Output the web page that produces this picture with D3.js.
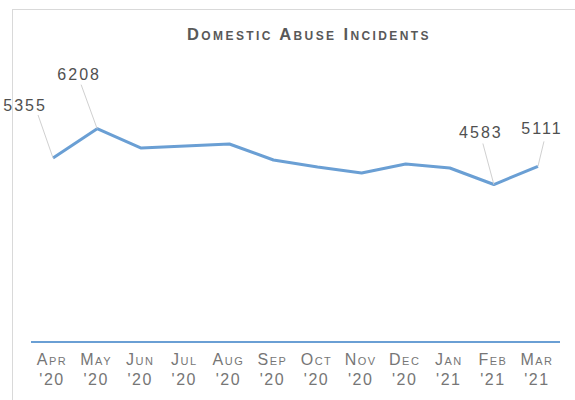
<!DOCTYPE html>
<html>
<head>
<meta charset="utf-8">
<script src="https://cdn.jsdelivr.net/npm/d3@7"></script>
<style>
  body { margin: 0; background: #fff; }
  svg text { font-family: "Liberation Sans", Arial, sans-serif; fill: #595959; }
</style>
</head>
<body>
<svg id="chart" width="575" height="400"></svg>
<script>
const months = ["Apr", "May", "Jun", "Jul", "Aug", "Sep", "Oct", "Nov", "Dec", "Jan", "Feb", "Mar"];
const years = ["'20", "'20", "'20", "'20", "'20", "'20", "'20", "'20", "'20", "'21", "'21", "'21"];
const incidents = [5355, 6208, 5646, 5704, 5763, 5297, 5093, 4919, 5180, 5064, 4583, 5111];
// which points carry a label
const labelled = [0, 1, 10, 11];

const lineColor = "#6a9fd4";

const svg = d3.select("#chart");

// chart frame
svg.append("rect")
  .attr("x", 12.5).attr("y", 9.5)
  .attr("width", 620).attr("height", 420)
  .attr("fill", "none")
  .attr("stroke", "#d9d9d9");

svg.append("text")
  .attr("x", 309).attr("y", 40)
  .attr("text-anchor", "middle")
  .style("font-size", "16.5px")
  .style("font-weight", "bold")
  .style("font-variant", "small-caps")
  .style("letter-spacing", "2.4px")
  .text("Domestic Abuse Incidents");

const x = d3.scalePoint()
  .domain(d3.range(months.length))
  .range([31, 560])
  .padding(0.5);

const y = d3.scaleLinear()
  .domain([0, 7000])
  .range([342, 342 - 7000 * 0.03436]);

// axis baseline
svg.append("line")
  .attr("x1", 31).attr("x2", 560)
  .attr("y1", y(0)).attr("y2", y(0))
  .attr("stroke", lineColor)
  .attr("stroke-width", 2);

// tick labels, two lines each
const ticks = svg.selectAll(".tick")
  .data(months)
  .enter()
  .append("text")
  .attr("class", "tick")
  .attr("text-anchor", "middle")
  .style("font-size", "16px")
  .style("font-variant", "small-caps")
  .style("letter-spacing", "1.5px")
  .style("fill", "#767676");

ticks.append("tspan")
  .attr("x", (d, i) => x(i) - 1)
  .attr("y", 365)
  .text(d => d);

ticks.append("tspan")
  .attr("x", (d, i) => x(i) - 1)
  .attr("y", 385)
  .text((d, i) => years[i]);

// data line
const line = d3.line()
  .x((d, i) => x(i))
  .y(d => y(d));

svg.append("path")
  .datum(incidents)
  .attr("d", line)
  .attr("fill", "none")
  .attr("stroke", lineColor)
  .attr("stroke-width", 3)
  .attr("stroke-linejoin", "round");

// label position relative to the point: [dx, dy] for the text, [lx, ly] for the leader end
const labelOffset = {
  0: [-28, -47, -15, -43],
  1: [-18, -49, -16, -44],
  10: [-13, -47, -11, -41],
  11: [4, -32, 6, -25]
};

labelled.forEach(i => {
  const px = x(i), py = y(incidents[i]);
  const [dx, dy, lx, ly] = labelOffset[i];
  svg.append("line")
    .attr("x1", px).attr("y1", py)
    .attr("x2", px + lx).attr("y2", py + ly)
    .attr("stroke", "#d0d0d0")
    .attr("stroke-width", 1);
  svg.append("text")
    .attr("x", px + dx)
    .attr("y", py + dy)
    .attr("text-anchor", "middle")
    .style("font-size", "16px")
    .style("letter-spacing", "2px")
    .style("fill", "#505050")
    .text(incidents[i]);
});
</script>
</body>
</html>
